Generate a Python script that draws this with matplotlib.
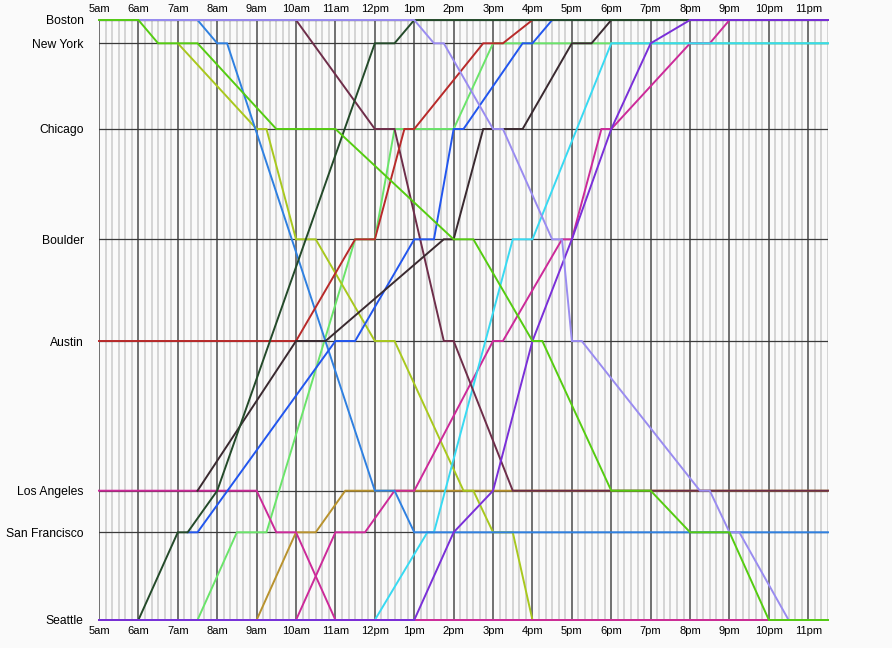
import matplotlib
matplotlib.use("Agg")
import matplotlib.pyplot as plt

# ---------------------------------------------
# Data
# ---------------------------------------------
cities = ["Boston", "New York", "Chicago", "Boulder", "Austin",
          "Los Angeles", "San Francisco", "Seattle"]
city_pos = [0, 23.3, 109, 219.3, 321, 470.7, 512.3, 600]

hour_labels = ["5am", "6am", "7am", "8am", "9am", "10am", "11am", "12pm",
               "1pm", "2pm", "3pm", "4pm", "5pm", "6pm", "7pm", "8pm",
               "9pm", "10pm", "11pm"]
day_start, day_end = "5:00", "23:30"

# each route: (city, time) stops, a dwell is two stops in the same city
route_gold = [("Seattle", "5:00"), ("Seattle", "9:00"), ("San Francisco", "10:00"),
              ("San Francisco", "10:30"), ("Los Angeles", "11:15"), ("Los Angeles", "23:30")]
route_lightgreen = [("Seattle", "5:00"), ("Seattle", "7:30"), ("San Francisco", "8:30"),
                    ("San Francisco", "9:15"), ("Boulder", "11:30"), ("Boulder", "12:00"),
                    ("Chicago", "12:30"), ("Chicago", "14:00"), ("New York", "15:00"),
                    ("New York", "23:30")]
route_yellowgreen = [("New York", "7:00"), ("Chicago", "9:00"), ("Chicago", "9:15"),
                     ("Boulder", "10:00"), ("Boulder", "10:30"), ("Austin", "12:00"),
                     ("Austin", "12:30"), ("Los Angeles", "14:15"), ("Los Angeles", "14:30"),
                     ("San Francisco", "15:00"), ("San Francisco", "15:30"),
                     ("Seattle", "16:00"), ("Seattle", "23:30")]
route_magenta2 = [("Seattle", "5:00"), ("Seattle", "10:00"), ("San Francisco", "11:00"),
                  ("San Francisco", "11:45"), ("Los Angeles", "12:30"), ("Los Angeles", "13:00"),
                  ("Austin", "15:00"), ("Austin", "15:15"), ("Boulder", "16:45"),
                  ("Boulder", "17:00"), ("Chicago", "17:45"), ("Chicago", "18:00"),
                  ("New York", "20:00"), ("New York", "20:30"), ("Boston", "21:00"),
                  ("Boston", "23:30")]
route_cyan = [("Seattle", "5:00"), ("Seattle", "12:00"), ("San Francisco", "13:20"),
              ("San Francisco", "13:30"), ("Boulder", "15:30"), ("Boulder", "16:00"),
              ("New York", "18:00"), ("New York", "23:30")]
route_maroon = [("Boston", "5:00"), ("Boston", "10:00"), ("Chicago", "12:00"),
                ("Chicago", "12:30"), ("Austin", "13:45"), ("Austin", "14:00"),
                ("Los Angeles", "15:30"), ("Los Angeles", "23:30")]
route_blue = [("Boston", "5:00"), ("Boston", "7:30"), ("New York", "8:00"),
              ("New York", "8:15"), ("Los Angeles", "12:00"), ("Los Angeles", "12:30"),
              ("San Francisco", "13:00"), ("San Francisco", "23:30")]
route_magenta1 = [("Los Angeles", "5:00"), ("Los Angeles", "9:00"), ("San Francisco", "9:30"),
                  ("San Francisco", "10:00"), ("Seattle", "11:00"), ("Seattle", "23:30")]
route_red = [("Austin", "5:00"), ("Austin", "10:00"), ("Boulder", "11:30"),
             ("Boulder", "12:00"), ("Chicago", "12:45"), ("Chicago", "13:00"),
             ("New York", "14:45"), ("New York", "15:15"), ("Boston", "16:00"),
             ("Boston", "23:30")]
route_royalblue = [("San Francisco", "7:15"), ("San Francisco", "7:30"), ("Austin", "11:00"),
                   ("Austin", "11:30"), ("Boulder", "13:00"), ("Boulder", "13:30"),
                   ("Chicago", "14:00"), ("Chicago", "14:15"), ("New York", "15:45"),
                   ("New York", "16:00"), ("Boston", "16:30"), ("Boston", "23:30")]
route_darkbrown = [("Los Angeles", "7:30"), ("Austin", "10:00"), ("Austin", "10:45"),
                   ("Boulder", "13:45"), ("Boulder", "14:00"), ("Chicago", "14:45"),
                   ("Chicago", "15:45"), ("New York", "17:00"), ("New York", "17:30"),
                   ("Boston", "18:00"), ("Boston", "23:30")]
route_darkgreen = [("Seattle", "5:00"), ("Seattle", "6:00"), ("San Francisco", "7:00"),
                   ("San Francisco", "7:15"), ("Los Angeles", "8:00"), ("New York", "12:00"),
                   ("New York", "12:30"), ("Boston", "13:00"), ("Boston", "23:30")]
route_violet = [("Seattle", "5:00"), ("Seattle", "13:00"), ("San Francisco", "14:00"),
                ("Los Angeles", "15:00"), ("Austin", "16:00"), ("Boulder", "17:00"),
                ("Chicago", "18:00"), ("New York", "19:00"), ("Boston", "20:00"),
                ("Boston", "23:30")]
route_lavender = [("Boston", "5:00"), ("Boston", "13:00"), ("New York", "13:30"),
                  ("New York", "13:45"), ("Chicago", "15:00"), ("Chicago", "15:15"),
                  ("Boulder", "16:30"), ("Boulder", "16:45"), ("Austin", "17:00"),
                  ("Austin", "17:15"), ("Los Angeles", "20:15"), ("Los Angeles", "20:30"),
                  ("San Francisco", "21:00"), ("San Francisco", "21:15"),
                  ("Seattle", "22:30"), ("Seattle", "23:30")]
route_green = [("Boston", "5:00"), ("Boston", "6:00"), ("New York", "6:30"),
               ("New York", "7:30"), ("Chicago", "9:30"), ("Chicago", "11:00"),
               ("Boulder", "14:00"), ("Boulder", "14:30"), ("Austin", "16:00"),
               ("Austin", "16:15"), ("Los Angeles", "18:00"), ("Los Angeles", "19:00"),
               ("San Francisco", "20:00"), ("San Francisco", "21:00"),
               ("Seattle", "22:00"), ("Seattle", "23:30")]

# drawing order, bottom to top
routes = [
    (route_gold, "#b8922e"),
    (route_lightgreen, "#6ae46a"),
    (route_yellowgreen, "#a8c81e"),
    (route_magenta2, "#cc2a99"),
    (route_cyan, "#38daf2"),
    (route_maroon, "#6e2e4a"),
    (route_blue, "#2f80e0"),
    (route_magenta1, "#cc2a99"),
    (route_red, "#b82a2a"),
    (route_royalblue, "#2256ee"),
    (route_darkbrown, "#3a2a30"),
    (route_darkgreen, "#244a2a"),
    (route_violet, "#7a2fd8"),
    (route_lavender, "#9a8cf0"),
    (route_green, "#55cc11"),
]


def to_hours(s):
    h, m = s.split(":")
    return int(h) + int(m) / 60.0


pos_of = dict(zip(cities, city_pos))

# ---------------------------------------------
# Figure
# ---------------------------------------------
plt.rcParams['font.family'] = ['Liberation Sans', 'DejaVu Sans']

fig = plt.figure(figsize=(8.92, 6.48), dpi=100)
fig.patch.set_facecolor("#fafafa")
ax = fig.add_axes([99 / 892, 1 - 620 / 648, 729 / 892, 600 / 648])
ax.set_facecolor("#fafafa")

t0, t1 = to_hours(day_start), to_hours(day_end)
ax.set_xlim(t0, t1)
ax.set_ylim(city_pos[-1], city_pos[0])

# 10 minute grid, hour lines darker
n_steps = int(round((t1 - t0) * 6))
for i in range(n_steps + 1):
    t = t0 + i / 6.0
    if i % 6 == 0:
        ax.axvline(t, color="#4a4a4a", lw=1.1, zorder=1)
    else:
        ax.axvline(t, color="#d2d2d2", lw=1.3, zorder=0)

for p in city_pos:
    ax.axhline(p, color="#3a3a3a", lw=0.9, zorder=1)

for route, color in routes:
    xs = [to_hours(t) for _, t in route]
    ys = [pos_of[c] for c, _ in route]
    ax.plot(xs, ys, color=color, lw=1.4, solid_joinstyle="miter", zorder=2,
            clip_on=False)

hour_ticks = [t0 + i for i in range(len(hour_labels))]
ax.set_xticks(hour_ticks)
ax.set_xticklabels(hour_labels, fontsize=8)
ax.tick_params(axis="x", top=True, labeltop=True, bottom=True, labelbottom=True,
               length=0, pad=4)
ax.set_yticks(city_pos)
ax.set_yticklabels(cities, fontsize=8.7)
ax.tick_params(axis="y", length=0, pad=11)
for s in ax.spines.values():
    s.set_visible(False)

fig.savefig("out.png", dpi=100, facecolor=fig.get_facecolor())
